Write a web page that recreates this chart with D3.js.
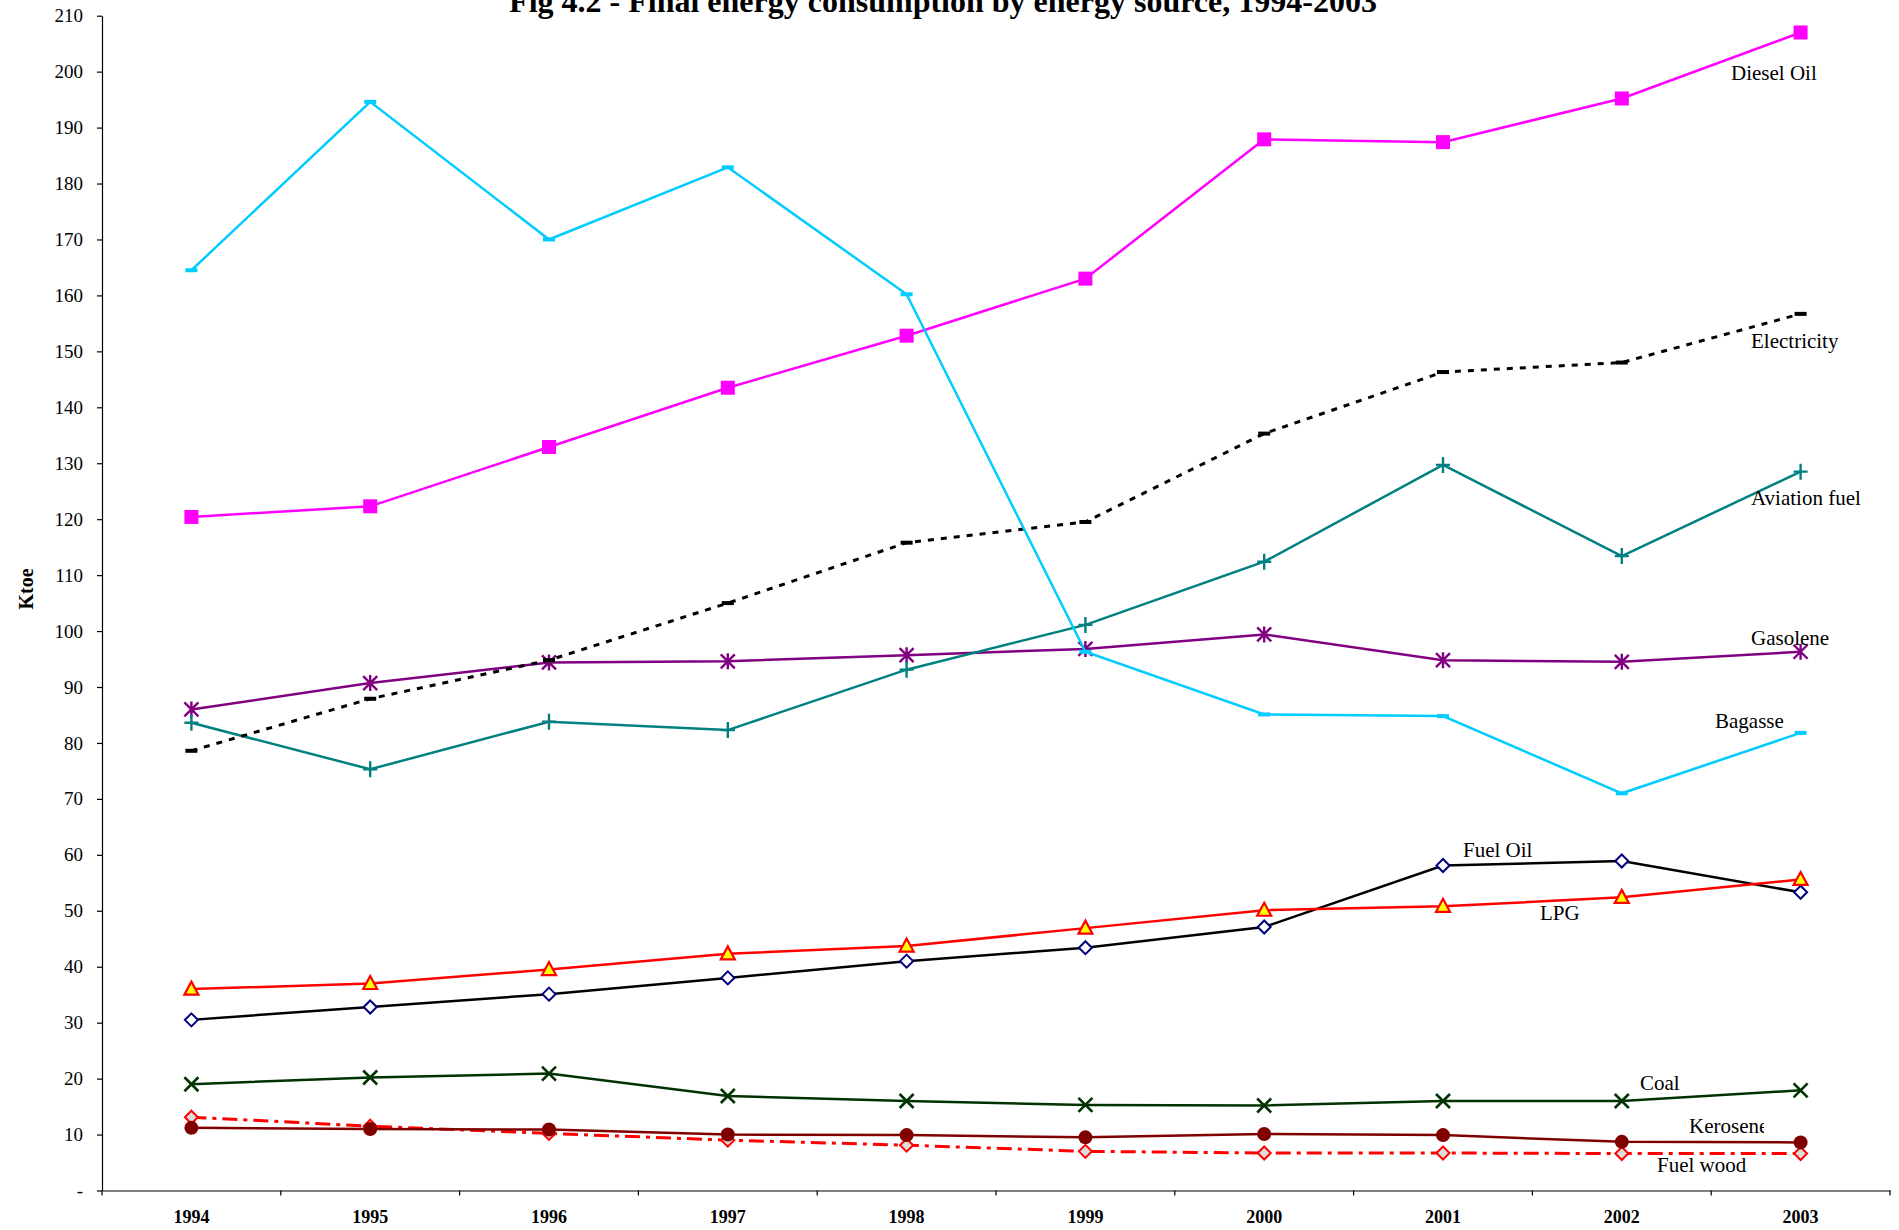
<!DOCTYPE html>
<html>
<head>
<meta charset="utf-8">
<title>Fig 4.2</title>
<script src="https://d3js.org/d3.v7.min.js"></script>
<style>
  body { margin: 0; background: #fff; }
  text { font-family: "Liberation Serif", "Times New Roman", serif; }
</style>
</head>
<body>
<script>
  // data (Ktoe)
  const years = ['1994', '1995', '1996', '1997', '1998', '1999', '2000', '2001', '2002', '2003'];
  const yTicks = d3.range(0, 211, 10);

  const bagasse     = [164.5, 194.6, 170.0, 182.9, 160.2, 96.3, 85.1, 84.8, 71.0, 81.8];
  const dieselOil   = [120.4, 122.3, 132.9, 143.5, 152.8, 163.0, 187.9, 187.4, 195.2, 207.0];
  const electricity = [78.6, 87.9, 94.8, 105.0, 115.8, 119.5, 135.3, 146.3, 148.0, 156.7];
  const aviation    = [83.6, 75.3, 83.8, 82.3, 93.1, 101.1, 112.4, 129.7, 113.4, 128.5];
  const gasolene    = [86.0, 90.7, 94.4, 94.6, 95.7, 96.8, 99.4, 94.8, 94.5, 96.3];
  const lpg         = [36.0, 37.0, 39.5, 42.3, 43.7, 46.9, 50.1, 50.8, 52.4, 55.6];
  const fuelOil     = [30.5, 32.8, 35.1, 38.0, 41.0, 43.4, 47.1, 58.1, 58.9, 53.3];
  const coal        = [19.0, 20.2, 20.9, 16.9, 16.0, 15.3, 15.2, 16.0, 16.0, 17.9];
  const kerosene    = [11.2, 11.0, 10.9, 10.0, 9.9, 9.5, 10.1, 9.9, 8.7, 8.6];
  const fuelWood    = [13.1, 11.5, 10.2, 9.0, 8.1, 7.0, 6.7, 6.7, 6.6, 6.6];

  const W = 1899, H = 1230;
  const plotL = 102, plotR = 1890, plotT = 15.7, plotB = 1190.5;

  const svg = d3.select('body').append('svg')
    .attr('width', W)
    .attr('height', H);

  svg.append('rect').attr('width', W).attr('height', H).attr('fill', '#fff');

  const x = d3.scaleBand().domain(years).range([plotL, plotR]);
  const y = d3.scaleLinear().domain([0, 210]).range([plotB, plotT]);
  const cx = yr => x(yr) + x.bandwidth() / 2;

  // title (sits partly above the page edge like the original)
  svg.append('text')
    .attr('x', 943).attr('y', 12)
    .attr('text-anchor', 'middle')
    .attr('font-size', 32).attr('font-weight', 'bold')
    .text('Fig 4.2 - Final energy consumption by energy source, 1994-2003');

  // y axis
  const yAxis = svg.append('g')
    .attr('transform', `translate(${plotL},0)`)
    .call(d3.axisLeft(y).tickValues(yTicks).tickSize(5).tickSizeOuter(0).tickPadding(14)
      .tickFormat(d => d === 0 ? '-' : d));
  yAxis.selectAll('text').attr('font-size', 19).attr('font-family', 'Liberation Serif').attr('fill', '#000');
  yAxis.selectAll('line, path').attr('stroke', '#000').attr('stroke-width', 1.2);

  svg.append('text')
    .attr('transform', `translate(33,589) rotate(-90)`)
    .attr('text-anchor', 'middle')
    .attr('font-size', 20).attr('font-weight', 'bold')
    .text('Ktoe');

  // x axis: labels at band centres, ticks at band edges
  const xAxis = svg.append('g')
    .attr('transform', `translate(0,${plotB})`)
    .call(d3.axisBottom(x).tickSize(0).tickSizeOuter(0).tickPadding(20));
  xAxis.selectAll('text').attr('font-size', 18).attr('font-weight', 'bold')
    .attr('font-family', 'Liberation Serif').attr('fill', '#000');
  xAxis.select('path').attr('stroke', '#000').attr('stroke-width', 1.2);

  const edges = years.map(d => x(d)).concat([plotR]);
  svg.append('g').selectAll('line')
    .data(edges)
    .enter()
    .append('line')
    .attr('x1', d => d).attr('x2', d => d)
    .attr('y1', plotB).attr('y2', plotB + 5)
    .attr('stroke', '#000').attr('stroke-width', 1.2);

  const series = [
    { name: 'Fuel wood', values: fuelWood, color: '#ff0000', dash: '15,6,4,6', width: 3, marker: 'diamond', mfill: '#dddddd', mstroke: '#ff0000' },
    { name: 'Kerosene', values: kerosene, color: '#800000', marker: 'circle', mfill: '#800000', mstroke: '#800000' },
    { name: 'Coal', values: coal, color: '#003300', marker: 'x', mstroke: '#003300' },
    { name: 'Fuel Oil', values: fuelOil, color: '#000000', marker: 'diamond', mfill: '#ffffff', mstroke: '#000080' },
    { name: 'LPG', values: lpg, color: '#ff0000', marker: 'triangle', mfill: '#ffff00', mstroke: '#ff0000' },
    { name: 'Gasolene', values: gasolene, color: '#800080', marker: 'star', mstroke: '#800080' },
    { name: 'Aviation fuel', values: aviation, color: '#008080', marker: 'plus', mstroke: '#008080' },
    { name: 'Electricity', values: electricity, color: '#000000', dash: '6,7', width: 3, marker: 'dash', mfill: '#000000' },
    { name: 'Diesel Oil', values: dieselOil, color: '#ff00ff', marker: 'square', mfill: '#ff00ff' },
    { name: 'Bagasse', values: bagasse, color: '#00ccff', marker: 'dash', mfill: '#00ccff' },
  ];

  const line = d3.line()
    .x((d, i) => cx(years[i]))
    .y(d => y(d));

  series.forEach(s => {
    svg.append('path')
      .datum(s.values)
      .attr('d', line)
      .attr('fill', 'none')
      .attr('stroke', s.color)
      .attr('stroke-width', s.width || 2.5)
      .attr('stroke-dasharray', s.dash || null);

    const g = svg.append('g');
    s.values.forEach((v, i) => {
      const px = cx(years[i]), py = y(v);
      const m = g.append('g').attr('transform', `translate(${px},${py})`);
      if (s.marker === 'square') {
        m.append('rect').attr('x', -7).attr('y', -7).attr('width', 14).attr('height', 14).attr('fill', s.mfill);
      } else if (s.marker === 'dash') {
        m.append('rect').attr('x', -6).attr('y', -2).attr('width', 12).attr('height', 4).attr('fill', s.mfill);
      } else if (s.marker === 'diamond') {
        m.append('path').attr('d', 'M0,-6.5L6.5,0L0,6.5L-6.5,0Z')
          .attr('fill', s.mfill).attr('stroke', s.mstroke).attr('stroke-width', 2);
      } else if (s.marker === 'triangle') {
        m.append('path').attr('d', 'M0,-7.5L7,5.5L-7,5.5Z')
          .attr('fill', s.mfill).attr('stroke', s.mstroke).attr('stroke-width', 2.2);
      } else if (s.marker === 'circle') {
        m.append('circle').attr('r', 7).attr('fill', s.mfill);
      } else if (s.marker === 'x') {
        m.append('path').attr('d', 'M-7,-7L7,7M-7,7L7,-7')
          .attr('stroke', s.mstroke).attr('stroke-width', 2.6);
      } else if (s.marker === 'plus') {
        m.append('path').attr('d', 'M-7,0L7,0M0,-8L0,8')
          .attr('stroke', s.mstroke).attr('stroke-width', 2.4);
      } else if (s.marker === 'star') {
        m.append('path').attr('d', 'M-7,-7L7,7M-7,7L7,-7M0,-8L0,8')
          .attr('stroke', s.mstroke).attr('stroke-width', 2.4);
      }
    });
  });

  // series labels placed next to their lines
  const labels = [
    { text: 'Diesel Oil', x: 1731, y: 80 },
    { text: 'Electricity', x: 1751, y: 348 },
    { text: 'Aviation fuel', x: 1751, y: 505 },
    { text: 'Gasolene', x: 1751, y: 645 },
    { text: 'Bagasse', x: 1715, y: 728 },
    { text: 'Fuel Oil', x: 1463, y: 857 },
    { text: 'LPG', x: 1540, y: 920 },
    { text: 'Coal', x: 1640, y: 1090 },
    { text: 'Kerosene', x: 1689, y: 1133, clip: true },
    { text: 'Fuel wood', x: 1657, y: 1172 },
  ];

  svg.append('clipPath').attr('id', 'keroClip')
    .append('rect').attr('x', 1680).attr('y', 1100).attr('width', 84).attr('height', 50);

  svg.append('g').selectAll('text')
    .data(labels)
    .enter()
    .append('text')
    .attr('x', d => d.x)
    .attr('y', d => d.y)
    .attr('font-size', 21)
    .attr('fill', '#000')
    .attr('clip-path', d => d.clip ? 'url(#keroClip)' : null)
    .text(d => d.text);
</script>
</body>
</html>
